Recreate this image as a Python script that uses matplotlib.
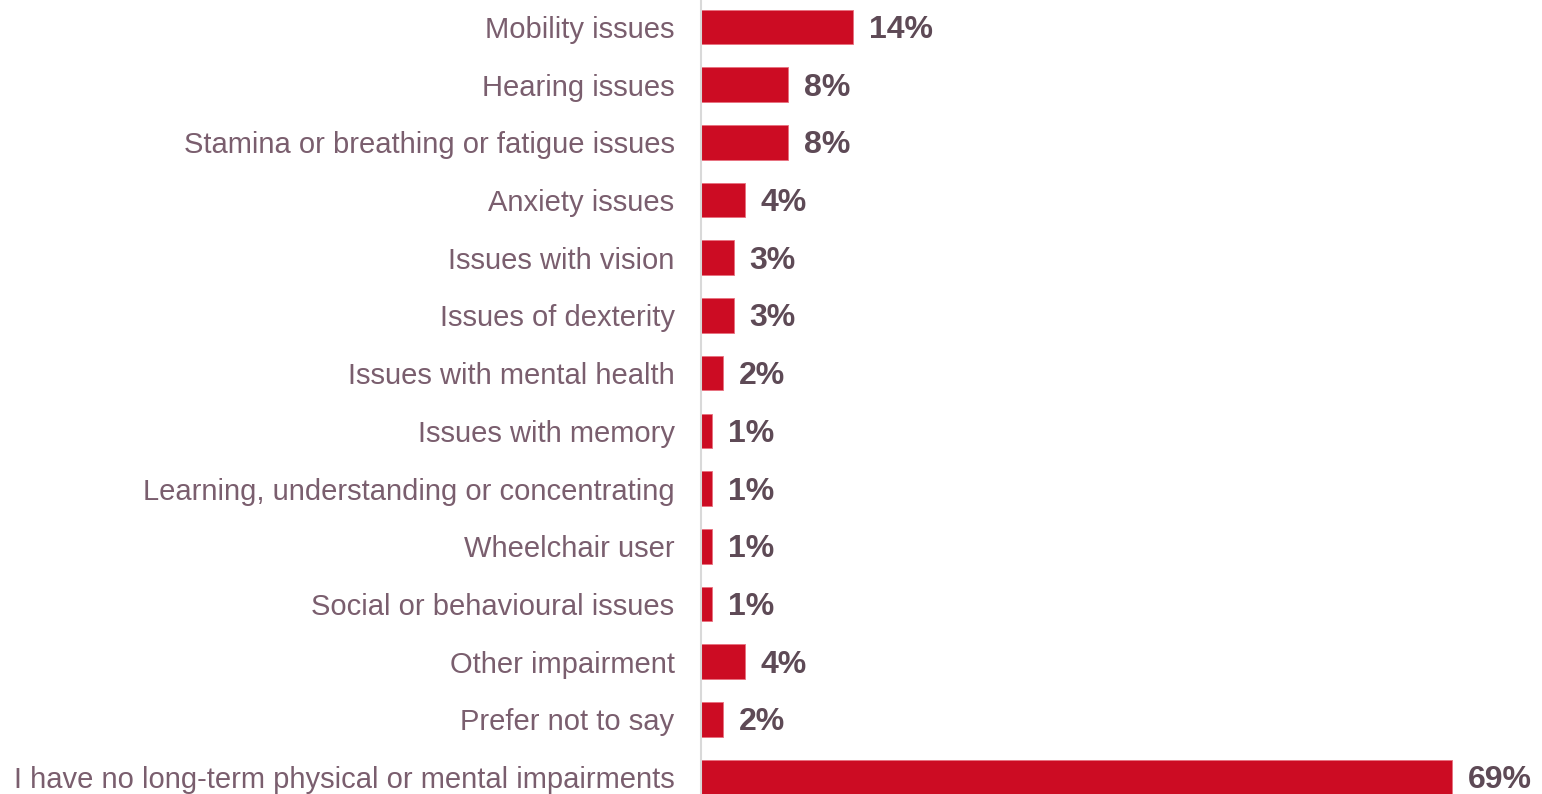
import matplotlib.pyplot as plt

categories = [
    "Mobility issues",
    "Hearing issues",
    "Stamina or breathing or fatigue issues",
    "Anxiety issues",
    "Issues with vision",
    "Issues of dexterity",
    "Issues with mental health",
    "Issues with memory",
    "Learning, understanding or concentrating",
    "Wheelchair user",
    "Social or behavioural issues",
    "Other impairment",
    "Prefer not to say",
    "I have no long-term physical or mental impairments",
]

values = [14, 8, 8, 4, 3, 3, 2, 1, 1, 1, 1, 4, 2, 69]

value_labels = [f"{v}%" for v in values]

BAR_COLOR = "#CC0C23"
LABEL_COLOR = "#7A5E6E"
VALUE_COLOR = "#5E4A56"

plt.rcParams["font.family"] = ["Liberation Sans", "DejaVu Sans"]

fig = plt.figure(figsize=(15.42, 7.94), dpi=100)

# axes placed so the bar column lines up with the reference
ax = fig.add_axes([701 / 1542, -12 / 794, 841 / 1542, 808 / 794])

positions = list(range(len(categories)))

ax.barh(
    positions,
    values,
    height=0.6,
    color=BAR_COLOR,
    edgecolor="#E8707F",
    linewidth=0.6,
)

for pos, val, lab in zip(positions, values, value_labels):

    ax.annotate(
        lab,
        xy=(val, pos),
        xytext=(16, -3),
        textcoords="offset pixels",
        va="center",
        ha="left",
        fontsize=23,
        fontweight="bold",
        color=VALUE_COLOR,
    )

ax.set_xlim(0, 841 / 10.88)
ax.set_ylim(len(categories) - 0.5, -0.5)

ax.set_yticks(positions)
ax.set_yticklabels(categories, fontsize=21, color=LABEL_COLOR, va="center_baseline")
ax.tick_params(axis="y", length=0, pad=19)
ax.set_xticks([])

for side in ["top", "right", "bottom"]:
    ax.spines[side].set_visible(False)

ax.spines["left"].set_color("#D9D9D9")
ax.spines["left"].set_linewidth(1.5)

fig.savefig("out.png", dpi=100)
